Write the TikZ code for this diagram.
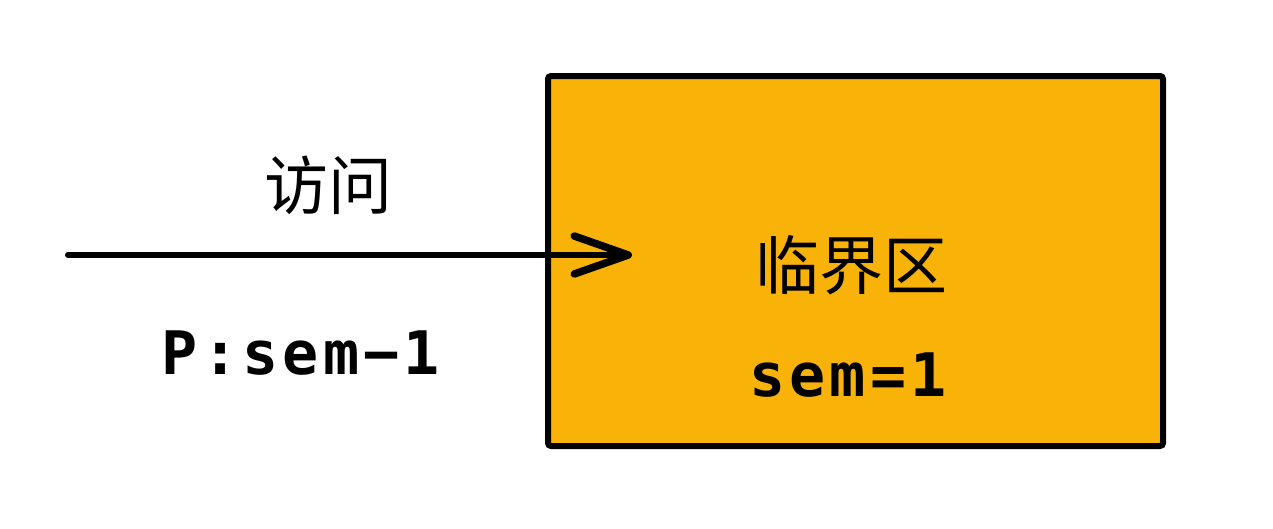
\documentclass[tikz,border=0pt]{standalone}
\usepackage{fontspec}
\newfontfamily\cjk{Noto Sans CJK SC}
\newfontfamily\mono[LetterSpace=7]{DejaVu Sans Mono Bold}
\usetikzlibrary{arrows.meta}
\definecolor{boxfill}{RGB}{249,178,8}
\begin{document}
\begin{tikzpicture}[x=1pt,y=-1pt,
  cjklabel/.style={font=\cjk\fontsize{64}{70}\selectfont, inner sep=0pt},
  monolabel/.style={font=\mono\fontsize{60}{64}\selectfont, inner sep=0pt},
  crit/.style={draw=black, line width=6pt, fill=boxfill, rounded corners=3pt}]
\useasboundingbox (0,0) rectangle (1273,528);
\node[crit, minimum width=615pt, minimum height=370pt, anchor=north west] (box) at (545,73) {};
\coordinate (start) at (68,255);
\coordinate (tip) at (632,255);
\draw[line width=6pt, line cap=round, -{Straight Barb[length=54pt,width=38pt,line width=7.5pt,round]}] (start) -- (tip);
\node[cjklabel] (visit) at (328,185) {访问};
\node[monolabel] (pop) at (301,353) {P:sem−1};
\node[cjklabel] (cs) at (851,265) {临界区};
\node[monolabel] (sem) at (848,375) {sem=1};
\end{tikzpicture}
\end{document}
